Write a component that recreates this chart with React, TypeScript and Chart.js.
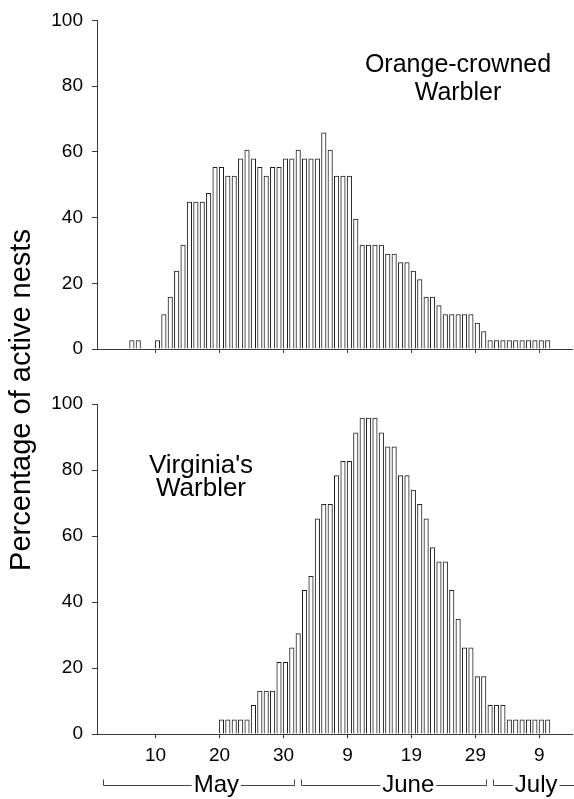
import React, { useEffect, useRef } from "react";
import { Chart, registerables } from "chart.js";

Chart.register(...registerables);

// ---------- data ----------
const orangeDays = [
  6, 7, 8, 9, 10, 11, 12, 13, 14, 15, 16, 17, 18, 19, 20, 21, 22, 23, 24, 25,
  26, 27, 28, 29, 30, 31, 32, 33, 34, 35, 36, 37, 38, 39, 40, 41, 42, 43, 44, 45,
  46, 47, 48, 49, 50, 51, 52, 53, 54, 55, 56, 57, 58, 59, 60, 61, 62, 63, 64, 65,
  66, 67, 68, 69, 70, 71,
];
const orangeValues = [
  2.6, 2.6, 0, 0, 2.6, 10.5, 15.8, 23.7, 31.6, 44.7, 44.7, 44.7, 47.4, 55.3, 55.3, 52.6, 52.6, 57.9, 60.5, 57.9,
  55.3, 52.6, 55.3, 55.3, 57.9, 57.9, 60.5, 57.9, 57.9, 57.9, 65.8, 60.5, 52.6, 52.6, 52.6, 39.5, 31.6, 31.6, 31.6, 31.6,
  28.9, 28.9, 26.3, 26.3, 23.7, 21.1, 15.8, 15.8, 13.2, 10.5, 10.5, 10.5, 10.5, 10.5, 7.9, 5.3, 2.6, 2.6, 2.6, 2.6,
  2.6, 2.6, 2.6, 2.6, 2.6, 2.6,
];

const virginiaDays = [
  20, 21, 22, 23, 24, 25, 26, 27, 28, 29, 30, 31, 32, 33, 34, 35, 36, 37, 38, 39,
  40, 41, 42, 43, 44, 45, 46, 47, 48, 49, 50, 51, 52, 53, 54, 55, 56, 57, 58, 59,
  60, 61, 62, 63, 64, 65, 66, 67, 68, 69, 70, 71,
];
const virginiaValues = [
  4.3, 4.3, 4.3, 4.3, 4.3, 8.7, 13.0, 13.0, 13.0, 21.7, 21.7, 26.1, 30.4, 43.5, 47.8, 65.2, 69.6, 69.6, 78.3, 82.6,
  82.6, 91.3, 95.7, 95.7, 95.7, 91.3, 87.0, 87.0, 78.3, 78.3, 73.9, 69.6, 65.2, 56.5, 52.2, 52.2, 43.5, 34.8, 26.1, 26.1,
  17.4, 17.4, 8.7, 8.7, 8.7, 4.3, 4.3, 4.3, 4.3, 4.3, 4.3, 4.3,
];

const yTickValues = [0, 20, 40, 60, 80, 100];
const xTickDays = [10, 20, 30, 40, 50, 60, 70];
const xTickLabels = ["10", "20", "30", "9", "19", "29", "9"];

const monthNames = ["May", "June", "July"];
const monthStartDays = [1, 32, 62];
const monthEndDays = [31, 61, 92];
const monthLabelDays = [19.5, 49.5, 69.5];

const orangeTitle = ["Orange-crowned", "Warbler"];
const virginiaTitle = ["Virginia's", "Warbler"];
const yAxisTitle = "Percentage of active nests";

// ---------- layout / style ----------
const W = 574;
const H = 799;
const FONT = "'Liberation Sans', Arial, Helvetica, sans-serif";
const X_MIN = 0.85;
const X_MAX = 75.1;
const BAR_OFFSET = 0.3; // bin alignment within a day
const AXIS_COLOR = "#3a3a3a";

const textPlugin = {
  id: "panelText",
  afterDraw(chart: any, _args: any, opts: any) {
    const ctx = chart.ctx as CanvasRenderingContext2D;
    ctx.save();
    ctx.fillStyle = "#000";
    ctx.textAlign = "center";
    ctx.textBaseline = "alphabetic";
    ctx.font = `${opts.titleSize}px ${FONT}`;
    (opts.title as string[]).forEach((line, i) => {
      ctx.fillText(line, opts.titleX, opts.titleY + i * opts.lineGap);
    });

    if (opts.showYTitle) {
      ctx.save();
      ctx.font = `29px ${FONT}`;
      ctx.translate(30, 400);
      ctx.rotate(-Math.PI / 2);
      ctx.fillText(yAxisTitle, 0, 0);
      ctx.restore();
    }

    if (opts.showMonths) {
      const xs = chart.scales.x;
      const yLine = 785.5;
      ctx.font = `24px ${FONT}`;
      ctx.strokeStyle = "#444";
      ctx.lineWidth = 1;
      monthNames.forEach((name, i) => {
        const left = Math.round(xs.getPixelForValue(monthStartDays[i] + 0.8)) + 0.5;
        const rawRight = xs.getPixelForValue(monthEndDays[i] + 0.65);
        const right = Math.round(Math.min(rawRight, W)) + 0.5;
        const cx = xs.getPixelForValue(monthLabelDays[i]);
        const tw = ctx.measureText(name).width;
        const gap = 2;
        ctx.beginPath();
        ctx.moveTo(left, yLine - 6);
        ctx.lineTo(left, yLine);
        ctx.lineTo(cx - tw / 2 - gap, yLine);
        ctx.moveTo(cx + tw / 2 + gap, yLine);
        ctx.lineTo(right, yLine);
        if (rawRight <= W) ctx.lineTo(right, yLine - 6);
        ctx.stroke();
        ctx.fillText(name, cx, 792);
      });
    }
    ctx.restore();
  },
};

function buildConfig(
  days: number[],
  values: number[],
  padding: { top: number; bottom: number },
  xAxisHeight: number,
  showXLabels: boolean,
  textOpts: any
): any {
  return {
    type: "bar",
    data: {
      datasets: [
        {
          data: days.map((d, i) => ({ x: d + BAR_OFFSET, y: values[i] > 0 ? values[i] : null })),
          backgroundColor: "#ffffff",
          borderColor: "#1e1e1e",
          borderWidth: 1,
          barThickness: 4.5,
          borderSkipped: "start",
        },
      ],
    },
    options: {
      responsive: false,
      animation: false,
      events: [],
      layout: { padding: { top: padding.top, bottom: padding.bottom, left: 0, right: 2 } },
      plugins: {
        legend: { display: false },
        tooltip: { enabled: false },
        title: { display: false },
        panelText: textOpts,
      },
      scales: {
        x: {
          type: "linear",
          min: X_MIN,
          max: X_MAX,
          offset: false,
          afterBuildTicks: (s: any) => {
            s.ticks = xTickDays.map((v) => ({ value: v }));
          },
          afterFit: (s: any) => {
            s.height = xAxisHeight;
          },
          grid: {
            display: true,
            offset: false,
            drawOnChartArea: false,
            drawTicks: true,
            tickLength: 4,
            color: AXIS_COLOR,
          },
          border: { display: true, color: AXIS_COLOR, width: 1 },
          ticks: {
            display: showXLabels,
            autoSkip: false,
            maxRotation: 0,
            padding: 6,
            color: "#000",
            font: { family: FONT, size: 19 },
            callback: (v: number) => xTickLabels[xTickDays.indexOf(v)] ?? "",
          },
        },
        y: {
          type: "linear",
          min: 0,
          max: 100,
          afterBuildTicks: (s: any) => {
            s.ticks = yTickValues.map((v) => ({ value: v }));
          },
          afterFit: (s: any) => {
            s.width = 97;
          },
          grid: {
            display: true,
            drawOnChartArea: false,
            drawTicks: true,
            tickLength: 5,
            color: AXIS_COLOR,
          },
          border: { display: true, color: AXIS_COLOR, width: 1 },
          ticks: {
            padding: 9,
            color: "#000",
            font: { family: FONT, size: 19 },
          },
        },
      },
    },
    plugins: [textPlugin],
  };
}

export default function App() {
  const topRef = useRef<HTMLCanvasElement>(null);
  const bottomRef = useRef<HTMLCanvasElement>(null);

  useEffect(() => {
    const top = new Chart(
      topRef.current as HTMLCanvasElement,
      buildConfig(orangeDays, orangeValues, { top: 20, bottom: H - 349 - 6 }, 6, false, {
        title: orangeTitle,
        titleSize: 25,
        titleX: 458,
        titleY: 72,
        lineGap: 28,
        showYTitle: true,
        showMonths: false,
      })
    );
    const bottom = new Chart(
      bottomRef.current as HTMLCanvasElement,
      buildConfig(virginiaDays, virginiaValues, { top: 404, bottom: H - 734 - 30 }, 30, true, {
        title: virginiaTitle,
        titleSize: 26,
        titleX: 201,
        titleY: 473,
        lineGap: 23,
        showYTitle: false,
        showMonths: true,
      })
    );
    return () => {
      top.destroy();
      bottom.destroy();
    };
  }, []);

  const canvasStyle: React.CSSProperties = {
    position: "absolute",
    left: 0,
    top: 0,
    width: W,
    height: H,
  };

  return (
    <div style={{ position: "absolute", left: 0, top: 0, width: W, height: H, background: "#fff" }}>
      <canvas ref={bottomRef} width={W} height={H} style={canvasStyle} />
      <canvas ref={topRef} width={W} height={H} style={canvasStyle} />
    </div>
  );
}
